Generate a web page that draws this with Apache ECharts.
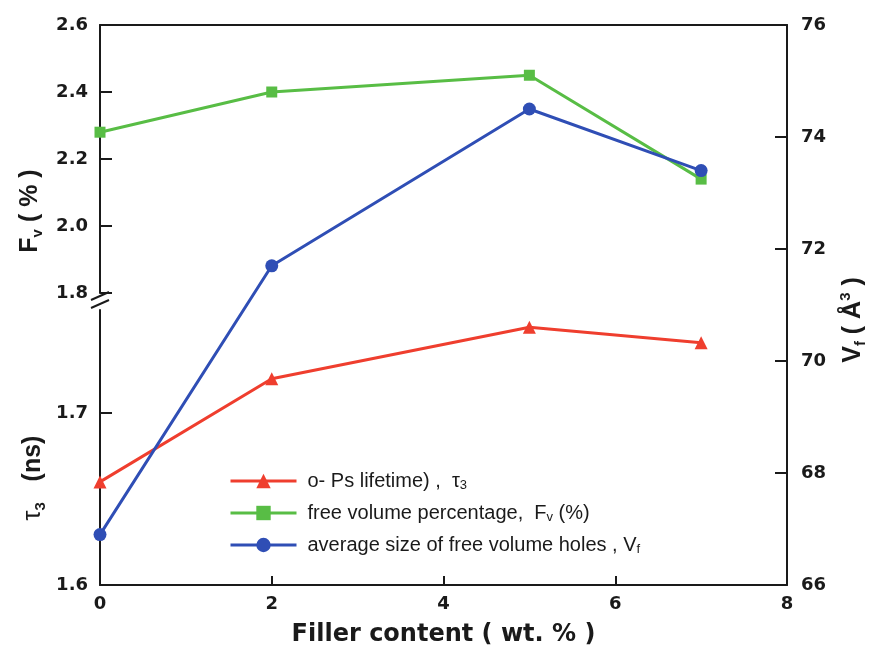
<!DOCTYPE html>
<html>
<head>
<meta charset="utf-8">
<script src="https://cdn.jsdelivr.net/npm/echarts@6/dist/echarts.min.js"></script>
<style>
  html, body { margin: 0; padding: 0; background: #fff; }
  #chart { width: 875px; height: 655px; }
</style>
</head>
<body>
<div id="chart"></div>
<script>
// values
const fillerContent = [0, 2, 5, 7]
const tauValues = [1.66, 1.72, 1.75, 1.741]
const fvValues = [2.28, 2.40, 2.45, 2.14]
const vfValues = [66.9, 71.7, 74.5, 73.4]

// axis ticks
const xTicks = [0, 2, 4, 6, 8]
const fvTicks = [1.8, 2.0, 2.2, 2.4, 2.6]
const tauTicks = [1.6, 1.7]
const vfTicks = [66, 68, 70, 72, 74, 76]

const seriesNames = ['tau', 'fv', 'vf']
const legendLabels = {
  tau: '{t|o- Ps lifetime) ,  τ}{s|3}',
  fv: '{t|free volume percentage,  F}{s|v}{t| (%)}',
  vf: '{t|average size of free volume holes , V}{s|f}',
}

const RED = '#ef3e2e'
const GREEN = '#58bd45'
const BLUE = '#2f4eb5'
const INK = '#1a1a1a'

const chart = echarts.init(document.getElementById('chart'))

const tickLabel = {
  fontFamily: 'DejaVu Sans',
  fontWeight: 'bold',
  fontSize: 18,
  color: INK,
}
const axisLine = { show: true, onZero: false, lineStyle: { color: INK, width: 2 } }
const tick = { show: true, inside: true, length: 12, lineStyle: { color: INK, width: 2 } }
const hiddenX = (gridIndex) => ({
  type: 'value',
  gridIndex,
  min: 0,
  max: 8,
  show: false,
  splitLine: { show: false },
})

const titleFont = {
  fontFamily: 'Liberation Sans',
  fontWeight: 'bold',
  fontSize: 25,
  fill: INK,
}
const titleRich = {
  b: { fontFamily: 'Liberation Sans', fontWeight: 'bold', fontSize: 25, color: INK, lineHeight: 30 },
  g: { fontFamily: 'Liberation Sans', fontSize: 25, color: INK, lineHeight: 30 },
  s: { fontFamily: 'Liberation Sans', fontWeight: 'bold', fontSize: 15, color: INK, lineHeight: 14, verticalAlign: 'bottom' },
  p: { fontFamily: 'Liberation Sans', fontWeight: 'bold', fontSize: 15, color: INK, lineHeight: 14, verticalAlign: 'top' },
}

const option = {
  backgroundColor: '#fff',
  animation: false,
  grid: [
    { left: 100, right: 88, top: 25, bottom: 70 },
    { left: 100, right: 88, top: 25, height: 268 },
    { left: 100, right: 88, top: 310, bottom: 70 },
  ],
  legend: {
    data: seriesNames,
    orient: 'vertical',
    left: 224,
    top: 466,
    itemWidth: 66,
    itemHeight: 18,
    itemGap: 11,
    lineStyle: { width: 3 },
    formatter: (name) => legendLabels[name],
    textStyle: {
      padding: [0, 0, 0, 6],
      rich: {
        t: { fontFamily: 'Liberation Sans', fontSize: 20, color: INK, lineHeight: 22 },
        s: { fontFamily: 'Liberation Sans', fontSize: 13, color: INK, lineHeight: 12, verticalAlign: 'bottom' },
      },
    },
  },
  xAxis: [
    {
      type: 'value',
      gridIndex: 0,
      min: 0,
      max: 8,
      axisLine,
      axisTick: { ...tick, length: 9, customValues: xTicks },
      axisLabel: { ...tickLabel, margin: 10, customValues: xTicks },
      splitLine: { show: false },
      name: 'Filler content ( wt. % )',
      nameLocation: 'middle',
      nameGap: 38,
      nameTextStyle: { fontFamily: 'DejaVu Sans', fontWeight: 'bold', fontSize: 24, color: INK },
    },
    {
      type: 'value',
      gridIndex: 0,
      position: 'top',
      min: 0,
      max: 8,
      axisLine,
      axisTick: { show: false },
      axisLabel: { show: false },
      splitLine: { show: false },
    },
    hiddenX(1),
    hiddenX(2),
  ],
  yAxis: [
    {
      type: 'value',
      gridIndex: 0,
      position: 'right',
      min: 66,
      max: 76,
      axisLine,
      axisTick: { ...tick, customValues: vfTicks },
      axisLabel: { ...tickLabel, margin: 14, customValues: vfTicks },
      splitLine: { show: false },
    },
    {
      type: 'value',
      gridIndex: 1,
      position: 'left',
      min: 1.8,
      max: 2.6,
      axisLine,
      axisTick: { ...tick, customValues: fvTicks },
      axisLabel: {
        ...tickLabel,
        margin: 12,
        customValues: fvTicks,
        formatter: (v) => v.toFixed(1),
      },
      splitLine: { show: false },
    },
    {
      type: 'value',
      gridIndex: 2,
      position: 'left',
      min: 1.6,
      max: 1.76,
      axisLine,
      axisTick: { ...tick, customValues: tauTicks },
      axisLabel: {
        ...tickLabel,
        margin: 12,
        customValues: tauTicks,
        formatter: (v) => v.toFixed(1),
      },
      splitLine: { show: false },
    },
  ],
  graphic: [
    // axis break marks
    { type: 'line', shape: { x1: 91, y1: 300, x2: 109, y2: 292 }, style: { stroke: INK, lineWidth: 2 } },
    { type: 'line', shape: { x1: 91, y1: 308, x2: 109, y2: 300 }, style: { stroke: INK, lineWidth: 2 } },
    {
      type: 'text',
      x: 30,
      y: 211,
      rotation: Math.PI / 2,
      style: {
        ...titleFont,
        text: '{b|F}{s|v}{b| ( % )}',
        rich: titleRich,
        align: 'center',
        verticalAlign: 'middle',
      },
    },
    {
      type: 'text',
      x: 33,
      y: 478,
      rotation: Math.PI / 2,
      style: {
        ...titleFont,
        text: '{g|τ}{s|3}{b|   (ns)}',
        rich: titleRich,
        align: 'center',
        verticalAlign: 'middle',
      },
    },
    {
      type: 'text',
      x: 853,
      y: 320,
      rotation: Math.PI / 2,
      style: {
        ...titleFont,
        text: '{b|V}{s|f}{b| ( Å}{p|3}{b| )}',
        rich: titleRich,
        align: 'center',
        verticalAlign: 'middle',
      },
    },
  ],
  series: [
    {
      name: 'tau',
      type: 'line',
      xAxisIndex: 3,
      yAxisIndex: 2,
      data: fillerContent.map((x, i) => [x, tauValues[i]]),
      symbol: 'triangle',
      symbolSize: 13,
      lineStyle: { color: RED, width: 3 },
      itemStyle: { color: RED },
    },
    {
      name: 'fv',
      type: 'line',
      xAxisIndex: 2,
      yAxisIndex: 1,
      data: fillerContent.map((x, i) => [x, fvValues[i]]),
      symbol: 'rect',
      symbolSize: 11,
      lineStyle: { color: GREEN, width: 3 },
      itemStyle: { color: GREEN },
    },
    {
      name: 'vf',
      type: 'line',
      xAxisIndex: 0,
      yAxisIndex: 0,
      data: fillerContent.map((x, i) => [x, vfValues[i]]),
      symbol: 'circle',
      symbolSize: 13,
      lineStyle: { color: BLUE, width: 3 },
      itemStyle: { color: BLUE },
    },
  ],
}

chart.setOption(option)
</script>
</body>
</html>
